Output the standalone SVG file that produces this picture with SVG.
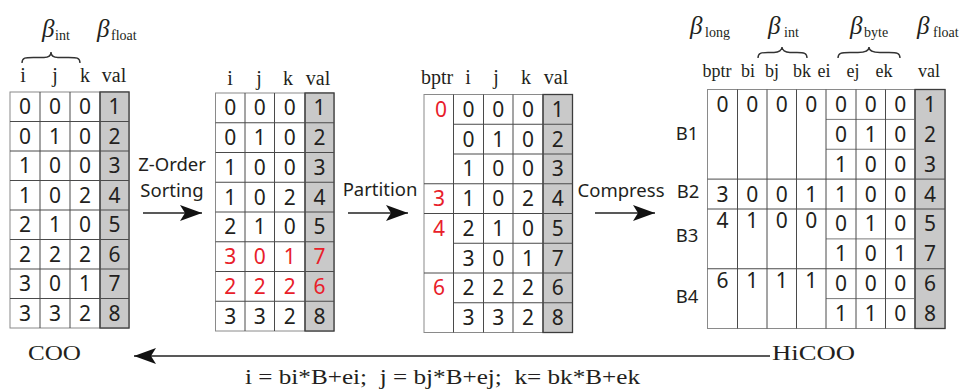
<svg xmlns="http://www.w3.org/2000/svg" width="965" height="389" viewBox="0 0 965 389">
  <style>
    .bg{fill:#fff}
    .frame{fill:none;stroke:#8a8a8a;stroke-width:1}
    .ln{stroke:#4a4a4a;stroke-width:1;fill:none}
    .lt{stroke:#7a7a7a;stroke-width:1;fill:none}
    .val{fill:#c9c9c9;stroke:#3c3c3c;stroke-width:1.3}
    .n{font-family:"Noto Sans","Open Sans",sans-serif;font-size:21px;text-anchor:middle;fill:#231f20}
    .red{fill:#e8202a}
    .hd{font-family:"Liberation Serif",serif;font-size:20px;text-anchor:middle;fill:#231f20}
    .hs{font-size:18px}
    .beta{font-family:"Liberation Serif",serif;font-style:italic;font-size:25px;fill:#231f20}
    .sub{font-family:"Liberation Serif",serif;font-size:14px;fill:#231f20}
    .brace{fill:none;stroke:#333;stroke-width:1.4}
    .lbl{font-family:"Noto Sans","Open Sans",sans-serif;font-size:18.5px;fill:#231f20;text-anchor:middle}
    .cap{font-family:"Liberation Serif",serif;font-size:22px;fill:#231f20}
    .arr{stroke:#222;stroke-width:1.6;fill:none}
    .head{fill:#111}
  </style>
  <defs>
    <marker id="ah" markerWidth="24" markerHeight="18" refX="22" refY="9" orient="auto" markerUnits="userSpaceOnUse">
      <path class="head" d="M22,9 L0,1 L5,9 L0,17 Z"/>
    </marker>
  </defs>
  <rect class="bg" x="0" y="0" width="965" height="389"/>

  <!-- COO table -->
  <g id="coo">
    <text class="beta" x="42" y="37">β</text><text class="sub" x="55" y="40">int</text>
    <text class="beta" x="97" y="37">β</text><text class="sub" x="111" y="40">float</text>
    <path class="brace" d="M22,63 C22,57 26,57.5 36,57.5 L44,57.5 C49,57.5 51,55 51,52 C51,55 53,57.5 58,57.5 L66,57.5 C76,57.5 80,57 80,63"/>
    <text class="hd" x="23" y="82">i</text><text class="hd" x="55" y="82">j</text><text class="hd" x="85" y="82">k</text><text class="hd" x="114" y="82">val</text>
    <rect class="frame" x="10" y="92" width="119" height="236"/>
    <rect class="val" x="100" y="92" width="29" height="236"/>
    <path class="ln" d="M10,121.5H129M10,151H129M10,180.5H129M10,210H129M10,239.5H129M10,269H129M10,298.5H129M40,92V328M70,92V328"/>
    <path class="ln" stroke-width="2" d="M100,92V328"/>
    <g class="n">
      <text x="25" y="114.3">0</text><text x="55" y="114.3">0</text><text x="85" y="114.3">0</text><text x="114.5" y="114.3">1</text>
      <text x="25" y="143.8">0</text><text x="55" y="143.8">1</text><text x="85" y="143.8">0</text><text x="114.5" y="143.8">2</text>
      <text x="25" y="173.3">1</text><text x="55" y="173.3">0</text><text x="85" y="173.3">0</text><text x="114.5" y="173.3">3</text>
      <text x="25" y="202.8">1</text><text x="55" y="202.8">0</text><text x="85" y="202.8">2</text><text x="114.5" y="202.8">4</text>
      <text x="25" y="232.3">2</text><text x="55" y="232.3">1</text><text x="85" y="232.3">0</text><text x="114.5" y="232.3">5</text>
      <text x="25" y="261.8">2</text><text x="55" y="261.8">2</text><text x="85" y="261.8">2</text><text x="114.5" y="261.8">6</text>
      <text x="25" y="291.3">3</text><text x="55" y="291.3">0</text><text x="85" y="291.3">1</text><text x="114.5" y="291.3">7</text>
      <text x="25" y="320.8">3</text><text x="55" y="320.8">3</text><text x="85" y="320.8">2</text><text x="114.5" y="320.8">8</text>
    </g>
    <text class="cap" x="28" y="360" textLength="53" lengthAdjust="spacingAndGlyphs">COO</text>
  </g>

  <!-- Z-ordered table -->
  <g id="sorted">
    <text class="hd" x="230" y="85">i</text><text class="hd" x="259" y="85">j</text><text class="hd" x="288" y="85">k</text><text class="hd" x="318" y="85">val</text>
    <rect class="frame" x="215.5" y="93" width="118.5" height="238"/>
    <rect class="val" x="305" y="93" width="29" height="238"/>
    <path class="ln" d="M215.5,122.75H334M215.5,152.5H334M215.5,182.25H334M215.5,212H334M215.5,241.75H334M215.5,271.5H334M215.5,301.25H334M245,93V331M274.5,93V331"/>
    <path class="ln" stroke-width="2" d="M305,93V331"/>
    <g class="n">
      <text x="230.25" y="115.4">0</text><text x="259.75" y="115.4">0</text><text x="289.75" y="115.4">0</text><text x="319.5" y="115.4">1</text>
      <text x="230.25" y="145.1">0</text><text x="259.75" y="145.1">1</text><text x="289.75" y="145.1">0</text><text x="319.5" y="145.1">2</text>
      <text x="230.25" y="174.9">1</text><text x="259.75" y="174.9">0</text><text x="289.75" y="174.9">0</text><text x="319.5" y="174.9">3</text>
      <text x="230.25" y="204.6">1</text><text x="259.75" y="204.6">0</text><text x="289.75" y="204.6">2</text><text x="319.5" y="204.6">4</text>
      <text x="230.25" y="234.4">2</text><text x="259.75" y="234.4">1</text><text x="289.75" y="234.4">0</text><text x="319.5" y="234.4">5</text>
      <g class="red">
        <text x="230.25" y="264.1">3</text><text x="259.75" y="264.1">0</text><text x="289.75" y="264.1">1</text><text x="319.5" y="264.1">7</text>
        <text x="230.25" y="293.9">2</text><text x="259.75" y="293.9">2</text><text x="289.75" y="293.9">2</text><text x="319.5" y="293.9">6</text>
      </g>
      <text x="230.25" y="323.6">3</text><text x="259.75" y="323.6">3</text><text x="289.75" y="323.6">2</text><text x="319.5" y="323.6">8</text>
    </g>
  </g>

  <!-- partitioned table -->
  <g id="partitioned">
    <text class="hd" x="437" y="84">bptr</text><text class="hd" x="468" y="84">i</text><text class="hd" x="496" y="84">j</text><text class="hd" x="526" y="84">k</text><text class="hd" x="556" y="84">val</text>
    <rect class="frame" x="424" y="94.5" width="148.5" height="238"/>
    <rect class="val" x="543" y="94.5" width="29.5" height="238"/>
    <path class="ln" d="M453.5,124.25H572.5M453.5,154H572.5M424,183.75H572.5M424,213.5H572.5M453.5,243.25H572.5M424,273H572.5M453.5,302.75H572.5M453.5,94.5V332.5M483.5,94.5V332.5M513,94.5V332.5"/>
    <path class="ln" stroke-width="2" d="M543,94.5V332.5"/>
    <g class="n">
      <g class="red">
        <text x="441" y="116.9">0</text><text x="439" y="206.1">3</text><text x="439" y="235.9">4</text><text x="439" y="295.4">6</text>
      </g>
      <text x="468.5" y="116.9">0</text><text x="498.25" y="116.9">0</text><text x="528" y="116.9">0</text><text x="557.75" y="116.9">1</text>
      <text x="468.5" y="146.6">0</text><text x="498.25" y="146.6">1</text><text x="528" y="146.6">0</text><text x="557.75" y="146.6">2</text>
      <text x="468.5" y="176.4">1</text><text x="498.25" y="176.4">0</text><text x="528" y="176.4">0</text><text x="557.75" y="176.4">3</text>
      <text x="468.5" y="206.1">1</text><text x="498.25" y="206.1">0</text><text x="528" y="206.1">2</text><text x="557.75" y="206.1">4</text>
      <text x="468.5" y="235.9">2</text><text x="498.25" y="235.9">1</text><text x="528" y="235.9">0</text><text x="557.75" y="235.9">5</text>
      <text x="468.5" y="265.6">3</text><text x="498.25" y="265.6">0</text><text x="528" y="265.6">1</text><text x="557.75" y="265.6">7</text>
      <text x="468.5" y="295.4">2</text><text x="498.25" y="295.4">2</text><text x="528" y="295.4">2</text><text x="557.75" y="295.4">6</text>
      <text x="468.5" y="325.1">3</text><text x="498.25" y="325.1">3</text><text x="528" y="325.1">2</text><text x="557.75" y="325.1">8</text>
    </g>
  </g>

  <!-- HiCOO table -->
  <g id="hicoo">
    <text class="beta" x="690" y="34">β</text><text class="sub" x="705" y="37">long</text>
    <text class="beta" x="768" y="34">β</text><text class="sub" x="784" y="37">int</text>
    <text class="beta" x="850" y="34">β</text><text class="sub" x="864" y="37">byte</text>
    <text class="beta" x="917" y="34">β</text><text class="sub" x="933" y="37">float</text>
    <path class="brace" d="M758,58 C758,53 761,52.5 768,52.5 L774,52.5 C779,52.5 782,50 782,47 C782,50 785,52.5 790,52.5 L797,52.5 C804,52.5 807,53 807,58"/>
    <path class="brace" d="M838,58 C838,53 841,52.5 850,52.5 L858,52.5 C866,52.5 869,50 869,47 C869,50 872,52.5 880,52.5 L889,52.5 C897,52.5 900,53 900,58"/>
    <g class="hd hs">
      <text x="717" y="77">bptr</text><text x="748" y="77">bi</text><text x="772" y="77">bj</text><text x="802" y="77">bk</text>
      <text x="824" y="77">ei</text><text x="853" y="77">ej</text><text x="884" y="77">ek</text><text x="929" y="77">val</text>
    </g>
    <rect class="frame" x="707.5" y="89.5" width="237.5" height="239"/>
    <rect class="val" x="915" y="89.5" width="30" height="239"/>
    <path class="lt" d="M826,119.4H915M826,149.25H915M826,238.9H915M826,298.6H915"/>
    <path class="ln" d="M707.5,179.1H945M707.5,209H945M707.5,268.75H945M737.5,89.5V328.5M767,89.5V328.5M796.5,89.5V328.5M856,89.5V328.5M885.5,89.5V328.5"/>
    <path class="ln" stroke-width="1.5" d="M826,89.5V328.5"/>
    <path class="ln" stroke-width="2" d="M915,89.5V328.5"/>
    <g class="n">
      <text x="722.5" y="111.9">0</text><text x="752.25" y="111.9">0</text><text x="781.75" y="111.9">0</text><text x="811.25" y="111.9">0</text>
      <text x="722.5" y="201.6">3</text><text x="752.25" y="201.6">0</text><text x="781.75" y="201.6">0</text><text x="811.25" y="201.6">1</text>
      <text x="722.5" y="228">4</text><text x="752.25" y="228">1</text><text x="781.75" y="228">0</text><text x="811.25" y="228">0</text>
      <text x="722.5" y="288">6</text><text x="752.25" y="288">1</text><text x="781.75" y="288">1</text><text x="811.25" y="288">1</text>
      <text x="841" y="111.9">0</text><text x="870.75" y="111.9">0</text><text x="900.25" y="111.9">0</text><text x="930" y="111.9">1</text>
      <text x="841" y="141.8">0</text><text x="870.75" y="141.8">1</text><text x="900.25" y="141.8">0</text><text x="930" y="141.8">2</text>
      <text x="841" y="171.7">1</text><text x="870.75" y="171.7">0</text><text x="900.25" y="171.7">0</text><text x="930" y="171.7">3</text>
      <text x="841" y="201.6">1</text><text x="870.75" y="201.6">0</text><text x="900.25" y="201.6">0</text><text x="930" y="201.6">4</text>
      <text x="841" y="231.4">0</text><text x="870.75" y="231.4">1</text><text x="900.25" y="231.4">0</text><text x="930" y="231.4">5</text>
      <text x="841" y="261.3">1</text><text x="870.75" y="261.3">0</text><text x="900.25" y="261.3">1</text><text x="930" y="261.3">7</text>
      <text x="841" y="291.2">0</text><text x="870.75" y="291.2">0</text><text x="900.25" y="291.2">0</text><text x="930" y="291.2">6</text>
      <text x="841" y="321.1">1</text><text x="870.75" y="321.1">1</text><text x="900.25" y="321.1">0</text><text x="930" y="321.1">8</text>
    </g>
    <g class="lbl">
      <text x="687" y="140">B1</text><text x="688" y="198">B2</text><text x="687" y="242">B3</text><text x="687" y="303">B4</text>
    </g>
    <text class="cap" x="772" y="360" textLength="83" lengthAdjust="spacingAndGlyphs">HiCOO</text>
  </g>

  <!-- transformations between the formats -->
  <g id="connectors">
    <path class="arr" marker-end="url(#ah)" d="M143,213H202"/>
    <path class="arr" marker-end="url(#ah)" d="M348,213H408"/>
    <path class="arr" marker-end="url(#ah)" d="M595,213H655"/>
    <path class="arr" marker-end="url(#ah)" d="M770,356H134"/>
    <text class="lbl" x="172" y="171">Z-Order</text>
    <text class="lbl" x="172" y="197">Sorting</text>
    <text class="lbl" x="380" y="196">Partition</text>
    <text class="lbl" x="621" y="197">Compress</text>
    <text class="cap" x="245" y="384" font-size="19" textLength="395" lengthAdjust="spacingAndGlyphs" xml:space="preserve">i = bi*B+ei;  j = bj*B+ej;  k= bk*B+ek</text>
  </g>
</svg>
